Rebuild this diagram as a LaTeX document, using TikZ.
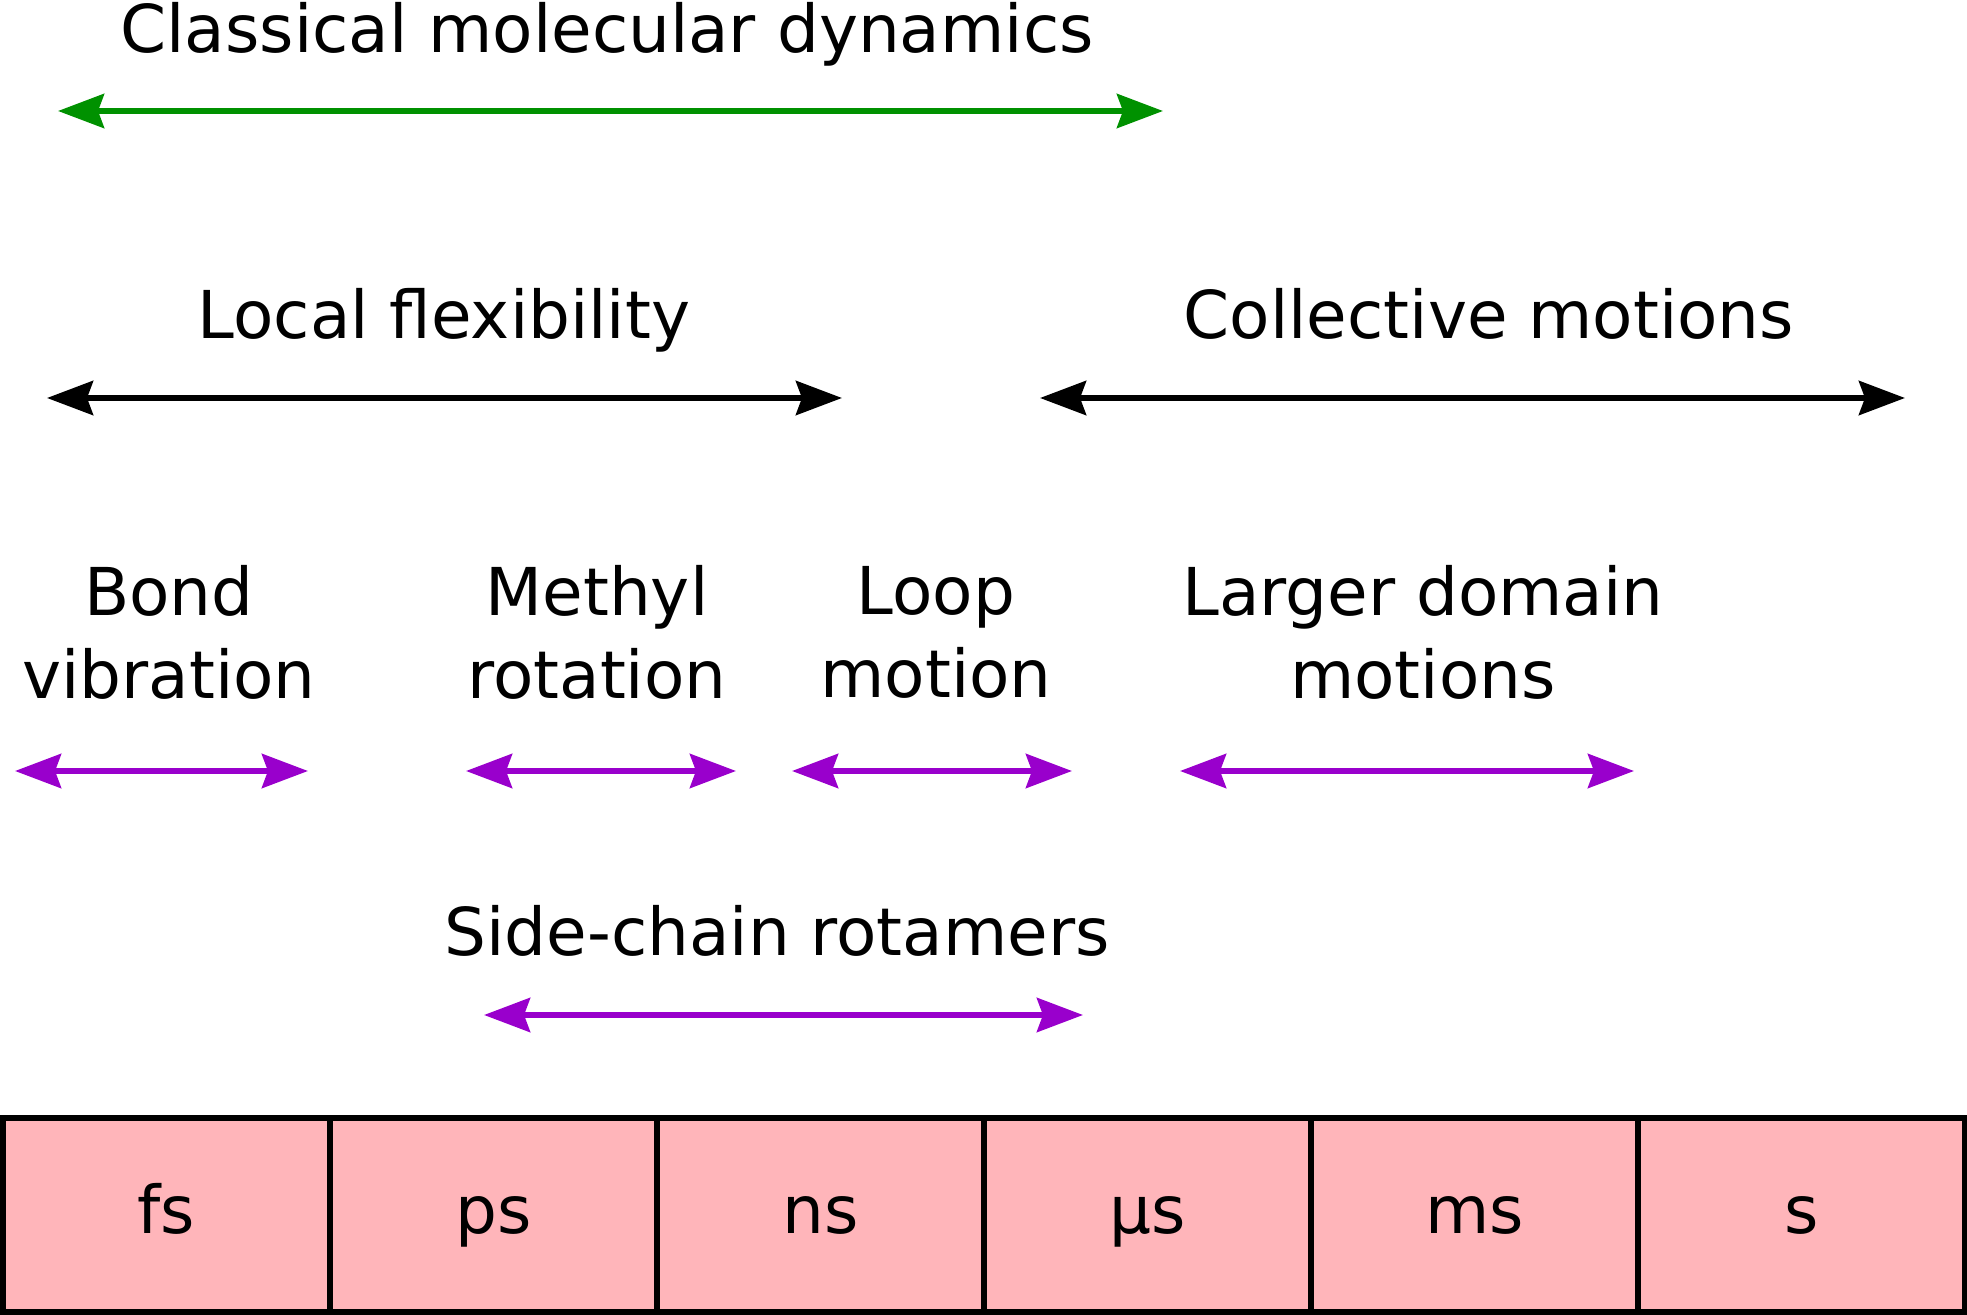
\documentclass[tikz,border=0pt]{standalone}
\usepackage{fontspec}
\setmainfont{DejaVu Sans}
\usetikzlibrary{arrows.meta,positioning}
\definecolor{mdColor}{HTML}{009100}
\definecolor{motionColor}{HTML}{9900CC}
\definecolor{cellColor}{HTML}{FFB5BA}

\begin{document}
\begin{tikzpicture}[x=0.5pt,y=-0.5pt,%
    >={Stealth[length=23pt,width=17pt,inset=3pt]},align=center,%
    every node/.style={font=\fontsize{33}{41.5}\selectfont}]
    \useasboundingbox (0,0) rectangle (1967,1315);
    \tikzstyle{span}=[<->,line width=3pt]
    % All span styles
    \tikzstyle{mdSpan}=[span,draw=mdColor,fill=mdColor]
    \tikzstyle{scaleSpan}=[span,draw=black,fill=black]
    \tikzstyle{motionSpan}=[span,draw=motionColor,fill=motionColor]
    \tikzstyle{cell}=[rectangle,draw=black,fill=cellColor,line width=3pt,%
      minimum width=163.5pt,minimum height=97pt,inner sep=0pt,%
      text height=25pt,text depth=7pt]
    % All labels
    \node (md) [anchor=base] at (607,53)              {Classical molecular dynamics};
    \node (local) [anchor=base] at (444,339)          {Local flexibility};
    \node (collective) [anchor=base] at (1489,339)    {Collective motions};
    \node (bond) at (169,632)                         {Bond\\vibration};
    \node (methyl) at (597,632)                       {Methyl\\rotation};
    \node (loop) at (936,632)                         {Loop\\motion};
    \node (domain) at (1423,632)                      {Larger domain\\motions};
    \node (sidechain) [anchor=base] at (777,956)      {Side-chain rotamers};
    % All span ends
    \coordinate (mdL) at (58,111);          \coordinate (mdR) at (1163,111);
    \coordinate (localL) at (47,398);       \coordinate (localR) at (842,398);
    \coordinate (collectiveL) at (1040,398); \coordinate (collectiveR) at (1905,398);
    \coordinate (bondL) at (15,771);        \coordinate (bondR) at (308,771);
    \coordinate (methylL) at (466,771);     \coordinate (methylR) at (736,771);
    \coordinate (loopL) at (792,771);       \coordinate (loopR) at (1072,771);
    \coordinate (domainL) at (1180,771);    \coordinate (domainR) at (1634,771);
    \coordinate (sidechainL) at (484,1015); \coordinate (sidechainR) at (1083,1015);
    % Spans
    \draw [mdSpan] (mdL) -- (mdR);
    \draw [scaleSpan] (localL) -- (localR);
    \draw [scaleSpan] (collectiveL) -- (collectiveR);
    \draw [motionSpan] (bondL) -- (bondR);
    \draw [motionSpan] (methylL) -- (methylR);
    \draw [motionSpan] (loopL) -- (loopR);
    \draw [motionSpan] (domainL) -- (domainR);
    \draw [motionSpan] (sidechainL) -- (sidechainR);
    % Time scale
    \foreach \unit [count=\i] in {fs,ps,ns,µs,ms,s}
      \node (cell\i) [cell] at ({166.5+327*(\i-1)},1215) {\unit};
  \end{tikzpicture}
\end{document}
